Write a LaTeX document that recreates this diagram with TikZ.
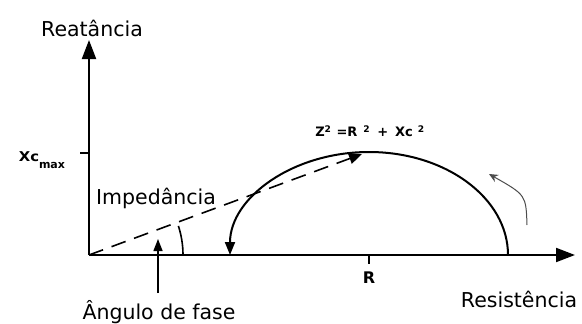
\documentclass[tikz,border=0pt]{standalone}
\usepackage{fontspec}
\setmainfont{DejaVu Sans}
\usetikzlibrary{arrows,arrows.meta,positioning}

\begin{document}
\begin{tikzpicture}[x=1pt,y=-1pt]
\tikzstyle{axis}=[line width=2pt,-{Triangle[length=19pt,width=14pt]}]
\tikzstyle{curve}=[line width=2pt]
\tikzstyle{word}=[font=\fontsize{20.5}{24}\selectfont,inner sep=0pt]
\tikzstyle{eq}=[font=\bfseries\fontsize{13}{15}\selectfont,inner sep=0pt]

\useasboundingbox (0,0) rectangle (582,324);

\coordinate (o) at (89,255);
\coordinate (ytop) at (89,40);
\coordinate (xend) at (575,255);
\coordinate (xcm) at (89,153);
\coordinate (rt) at (369,255);
\coordinate (cr) at (508,255);
\coordinate (zt) at (362,154);
\coordinate (ang) at (183,255);
\coordinate (fb) at (158,293);
\coordinate (ft) at (158,239);
\coordinate (ra) at (527,225);
\coordinate (rb) at (489,174);

\draw[axis] (o) -- (ytop);
\draw[axis] (o) -- (xend);
\draw[curve] (xcm) -- ++(-9,0);
\draw[curve] (rt) -- ++(0,9);

\draw[curve,-{Triangle[length=13pt,width=10pt]}] (cr) arc[start angle=0,end angle=180,x radius=139pt,y radius=103pt];
\draw[line width=1.6pt,dash pattern=on 15pt off 9pt,-{Triangle[length=13pt,width=11pt]}] (o) -- (zt);
\draw[line width=1.6pt] (ang) arc[start angle=0,end angle=18,radius=94pt];
\draw[line width=1.4pt,-{Triangle[length=12pt,width=9pt]}] (fb) -- (ft);
\draw[line width=1pt,gray!60!black,-{Stealth[length=9pt,width=8pt,inset=3pt]}] (ra) .. controls (526,195) .. (rb);

\node[word] (reat) at (92,28) {Reatância};
\node[word] (imp) at (156,198) {Impedância};
\node[word] (fase) at (159,312) {Ângulo de fase};
\node[word] (res) at (519,299) {Resistência};
\node[eq,xscale=1.1,font=\bfseries\fontsize{13.5}{16}\selectfont] (xc) at (29,157) {Xc};
\node[eq,font=\bfseries\fontsize{11}{13}\selectfont] (max) at (52,165) {max};
\node[eq,font=\bfseries\fontsize{16}{18}\selectfont] (rlab) at (369,278) {R};
\node[eq] (form) at (370,131) {Z\textsuperscript{2}\hspace{5pt}=R\hspace{6pt}\textsuperscript{2}\hspace{7pt}+\hspace{7pt}Xc\hspace{5pt}\textsuperscript{2}};

\end{tikzpicture}
\end{document}
